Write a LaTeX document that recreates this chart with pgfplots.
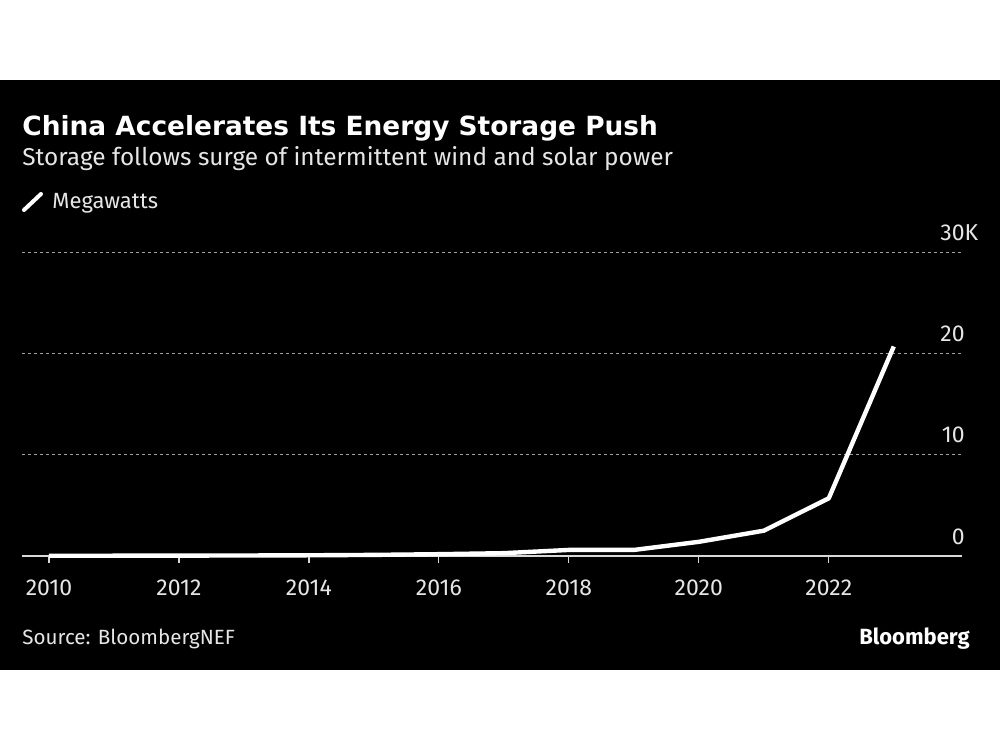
\documentclass[border=0pt]{standalone}
\usepackage{fontspec}
\setmainfont{Fira Sans}
\newfontfamily\titlefont{DejaVu Sans}
\usepackage{pgfplots}
\pgfplotsset{compat=1.18}
\definecolor{gridc}{HTML}{A0A0A0}
\definecolor{axc}{HTML}{D8D8D8}
\definecolor{txt}{HTML}{E6E6E6}
\begin{document}
\begin{tikzpicture}
\fill[white] (0pt,0pt) rectangle (500pt,375pt);
\fill[black] (0pt,40pt) rectangle (500pt,335pt);
\begin{axis}[at={(11pt,97pt)}, anchor=south west,
  scale only axis, width=470pt, height=151.85pt,
  xmin=2009.585, xmax=2024.05, ymin=0, ymax=30,
  clip=false,
  axis x line=bottom, axis y line=right,
  axis line style={-},
  x axis line style={axc, line width=0.6pt},
  y axis line style={draw=none},
  xtick={2010,2012,...,2022},
  ytick={0,10,20,30},
  yticklabels={0,10,20,30\rlap{K}},
  ymajorgrids,
  grid style={dash pattern=on 1.4pt off 1.6pt, gridc, line width=0.7pt},
  tick align=outside,
  x tick style={axc, line width=0.6pt},
  y tick style={draw=none},
  major tick length=3.5pt,
  ticklabel style={font=\fontsize{11.5}{13}\selectfont, txt},
  x tick label style={/pgf/number format/1000 sep={}, inner sep=0pt, anchor=base, yshift=-16pt},
  y tick label style={anchor=base east, inner sep=0pt, xshift=-2pt, yshift=6pt},
  /pgf/number format/assume math mode=true,
]
\addplot[white, line width=2.2pt, line join=round] coordinates {
(2010,0.02)(2011,0.03)(2012,0.04)(2013,0.05)(2014,0.07)(2015,0.11)(2016,0.18)
(2017,0.28)(2018,0.6)(2019,0.6)(2020,1.4)(2021,2.5)(2022,5.7)(2023,20.7)};
\end{axis}
\node[anchor=base west, inner sep=0pt, white] at (11pt,307pt) {\fontsize{13.2}{15}\selectfont\titlefont\bfseries China Accelerates Its Energy Storage Push};
\node[anchor=base west, inner sep=0pt, txt] at (11pt,292pt) {\fontsize{12.2}{14}\selectfont Storage follows surge of intermittent wind and solar power};
\draw[white, line width=2pt, line cap=round] (12pt,270pt) -- (20.5pt,278pt);
\node[anchor=base west, inner sep=0pt, txt] at (26pt,270.5pt) {\fontsize{11}{13}\selectfont Megawatts};
\node[anchor=base west, inner sep=0pt, txt] at (11pt,53pt) {\fontsize{10.3}{13}\selectfont Source: BloombergNEF};
\node[anchor=base east, inner sep=0pt, white] at (485pt,53pt) {\fontsize{11}{13}\selectfont\bfseries Bloomberg};
\end{tikzpicture}
\end{document}
